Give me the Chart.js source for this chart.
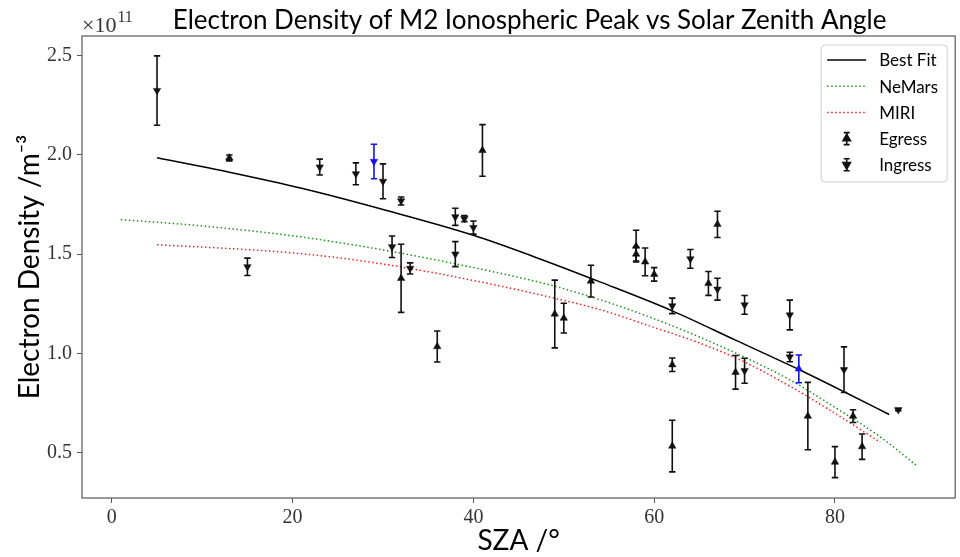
<!DOCTYPE html>
<html>
<head>
<meta charset="utf-8">
<script src="https://cdn.jsdelivr.net/npm/chart.js@4.4.1/dist/chart.umd.min.js"></script>
<style>
  html, body { margin: 0; padding: 0; background: #fff; }
</style>
</head>
<body>
<canvas id="chart" width="960" height="557"></canvas>
<script>
// values in units of 1e11 m^-3
const fitSza = [5, 13, 21, 30, 40, 47, 54, 62, 69, 76, 81, 86];
const fitVal = [1.986, 1.913, 1.832, 1.725, 1.595, 1.482, 1.360, 1.214, 1.066, 0.918, 0.806, 0.691];

const nemarsSza = [1, 10, 21, 30, 40, 48, 54, 60, 65, 70, 75, 80, 85, 89];
const nemarsVal = [1.674, 1.642, 1.586, 1.521, 1.432, 1.350, 1.270, 1.174, 1.082, 0.980, 0.866, 0.727, 0.578, 0.435];

const miriSza = [5, 13, 21, 30, 40, 48, 54, 60, 65, 70, 75, 80, 85];
const miriVal = [1.547, 1.528, 1.502, 1.450, 1.367, 1.288, 1.220, 1.130, 1.052, 0.956, 0.834, 0.697, 0.551];

const egressSza = [13, 32, 36, 41, 49, 50, 53, 58, 58, 59, 60, 62, 62, 66, 67, 69, 77, 80, 82, 83];
const egressVal = [1.985, 1.378, 1.034, 2.023, 1.198, 1.177, 1.364, 1.54, 1.50, 1.461, 1.398, 0.942, 0.532, 1.352, 1.65, 0.904, 0.683, 0.451, 0.683, 0.529];
const egressErr = [0.015, 0.172, 0.078, 0.13, 0.171, 0.075, 0.08, 0.08, 0.035, 0.07, 0.034, 0.034, 0.13, 0.06, 0.066, 0.085, 0.17, 0.078, 0.032, 0.064];

const ingressSza = [5, 15, 23, 27, 30, 31, 32, 33, 38, 38, 39, 40, 62, 64, 67, 70, 70, 75, 75, 81, 87];
const ingressVal = [2.325, 1.436, 1.939, 1.905, 1.867, 1.537, 1.768, 1.428, 1.688, 1.50, 1.679, 1.634, 1.239, 1.476, 1.323, 1.244, 0.912, 1.193, 0.981, 0.917, 0.715];
const ingressErr = [0.175, 0.044, 0.04, 0.055, 0.088, 0.054, 0.02, 0.028, 0.043, 0.063, 0.015, 0.033, 0.039, 0.047, 0.055, 0.047, 0.063, 0.075, 0.024, 0.115, 0.005];

// the two points drawn in blue
const blueEgressSza = [76];
const blueEgressVal = [0.921];
const blueEgressErr = [0.07];
const blueIngressSza = [29];
const blueIngressVal = [1.967];
const blueIngressErr = [0.087];

const xTicks = [0, 20, 40, 60, 80];
const yTicks = [0.5, 1.0, 1.5, 2.0, 2.5];

const SANS = "Lato, 'DejaVu Sans', sans-serif";
const SERIF = "'Liberation Serif', 'DejaVu Serif', serif";

const pts = (xs, ys) => xs.map((x, i) => ({x, y: ys[i]}));

function curve(label, xs, ys, color, dash){
  return {
    label, data: pts(xs, ys), showLine: true, borderColor: color, backgroundColor: color,
    borderWidth: 1.5, borderDash: dash, pointRadius: 0, pointHoverRadius: 0,
    cubicInterpolationMode: "monotone", order: 5
  };
}
function marks(label, xs, ys, errs, color, rot){
  return {
    label, data: pts(xs, ys), errors: errs, showLine: false,
    pointStyle: "triangle", rotation: rot, pointRadius: 4.3, pointBorderWidth: 0.5,
    borderColor: color, backgroundColor: color, order: 1
  };
}

const datasets = [
  curve("Best Fit", fitSza, fitVal, "#000", []),
  curve("NeMars", nemarsSza, nemarsVal, "#1a961a", [1.5, 2.5]),
  curve("MIRI", miriSza, miriVal, "#ff2020", [1.5, 2.5]),
  marks("Egress", egressSza, egressVal, egressErr, "#111", 0),
  marks("Ingress", ingressSza, ingressVal, ingressErr, "#111", 180),
  marks("Egress*", blueEgressSza, blueEgressVal, blueEgressErr, "#1414e6", 0),
  marks("Ingress*", blueIngressSza, blueIngressVal, blueIngressErr, "#1414e6", 180)
];

function errBar(ctx, px, top, bot, cap){
  ctx.beginPath();
  ctx.moveTo(px, top); ctx.lineTo(px, bot);
  ctx.moveTo(px - cap, top); ctx.lineTo(px + cap, top);
  ctx.moveTo(px - cap, bot); ctx.lineTo(px + cap, bot);
  ctx.stroke();
}

const errorBars = {
  id: "errorBars",
  beforeDatasetDraw(chart, args){
    const ds = chart.data.datasets[args.index];
    if(!ds.errors) return;
    const {ctx, scales: {x, y}} = chart;
    ctx.save();
    ctx.strokeStyle = ds.borderColor;
    ctx.lineWidth = 1.6;
    ds.data.forEach((p, i) => {
      errBar(ctx, x.getPixelForValue(p.x),
        y.getPixelForValue(p.y + ds.errors[i]),
        y.getPixelForValue(p.y - ds.errors[i]), 3.2);
    });
    ctx.restore();
  }
};

const decorations = {
  id: "decorations",
  afterDraw(chart){
    const {ctx, chartArea: a} = chart;
    ctx.save();
    // frame
    ctx.strokeStyle = "#666";
    ctx.lineWidth = 1.3;
    ctx.strokeRect(a.left, a.top, a.right - a.left, a.bottom - a.top);

    // title
    ctx.fillStyle = "#000";
    ctx.font = "26px " + SANS;
    ctx.textAlign = "center";
    ctx.textBaseline = "alphabetic";
    ctx.fillText("Electron Density of M2 Ionospheric Peak vs Solar Zenith Angle", (a.left + a.right) / 2 + 11, 29);

    // offset text
    ctx.textAlign = "left";
    ctx.fillStyle = "#333";
    ctx.font = "22px " + SERIF;
    ctx.fillText("\u00d710", a.left, 32);
    const w = ctx.measureText("\u00d710").width;
    ctx.font = "16px " + SERIF;
    ctx.fillText("11", a.left + w + 1, 22);

    // legend
    const bw = 126, bh = 137;
    const bx = a.right - 8 - bw, by = a.top + 9;
    ctx.beginPath();
    ctx.roundRect(bx, by, bw, bh, 4);
    ctx.fillStyle = "rgba(255,255,255,0.85)";
    ctx.fill();
    ctx.strokeStyle = "#d0d0d0";
    ctx.lineWidth = 1;
    ctx.stroke();
    const items = chart.data.datasets.slice(0, 5);
    items.forEach((ds, i) => {
      const cy = by + 15 + i * 26.2;
      const sx = bx + 6, ex = bx + 45;
      ctx.strokeStyle = ds.borderColor;
      ctx.fillStyle = ds.borderColor;
      if(ds.showLine){
        ctx.lineWidth = 1.5;
        ctx.setLineDash(ds.borderDash);
        ctx.beginPath(); ctx.moveTo(sx, cy); ctx.lineTo(ex, cy); ctx.stroke();
        ctx.setLineDash([]);
      } else {
        const mx = (sx + ex) / 2;
        ctx.lineWidth = 1.6;
        errBar(ctx, mx, cy - 6, cy + 6, 3);
        Chart.helpers.drawPoint(ctx, {pointStyle: "triangle", rotation: ds.rotation, radius: 4.3, borderWidth: 0.5}, mx, cy);
      }
      ctx.fillStyle = "#000";
      ctx.font = "17px " + SANS;
      ctx.textBaseline = "middle";
      ctx.fillText(ds.label, bx + 58, cy + 1);
    });
    ctx.restore();
  }
};

new Chart(document.getElementById("chart"), {
  type: "scatter",
  data: { datasets },
  plugins: [errorBars, decorations],
  options: {
    responsive: false,
    animation: false,
    layout: { padding: { top: 36, right: 3, left: 0, bottom: 0 } },
    plugins: { legend: { display: false }, title: { display: false }, tooltip: { enabled: false } },
    scales: {
      x: {
        type: "linear", min: -3.3, max: 93.3,
        afterBuildTicks: s => { s.ticks = xTicks.map(v => ({value: v})); },
        afterFit: s => { s.height = 59; },
        grid: { drawOnChartArea: false, drawTicks: true, tickLength: 5, tickColor: "#555", tickWidth: 1 },
        border: { display: false },
        ticks: { color: "#333", padding: 3, maxRotation: 0, font: { family: SERIF, size: 20 }, callback: v => String(v) },
        title: { display: true, text: "SZA /\u00b0", color: "#000", font: { family: SANS, size: 28, lineHeight: 1 }, padding: { top: 0, bottom: 2 } }
      },
      y: {
        type: "linear", min: 0.27, max: 2.60,
        afterBuildTicks: s => { s.ticks = yTicks.map(v => ({value: v})); },
        afterFit: s => { s.width = 82; },
        grid: { drawOnChartArea: false, drawTicks: true, tickLength: 5, tickColor: "#555", tickWidth: 1 },
        border: { display: false },
        ticks: { color: "#333", padding: 5, font: { family: SERIF, size: 20 }, callback: v => v.toFixed(1) },
        title: { display: true, text: "Electron Density /m\u207b\u00b3", color: "#000", font: { family: SANS, size: 28, lineHeight: 1 }, padding: { top: 16, bottom: 0 } }
      }
    }
  }
});
</script>
</body>
</html>
